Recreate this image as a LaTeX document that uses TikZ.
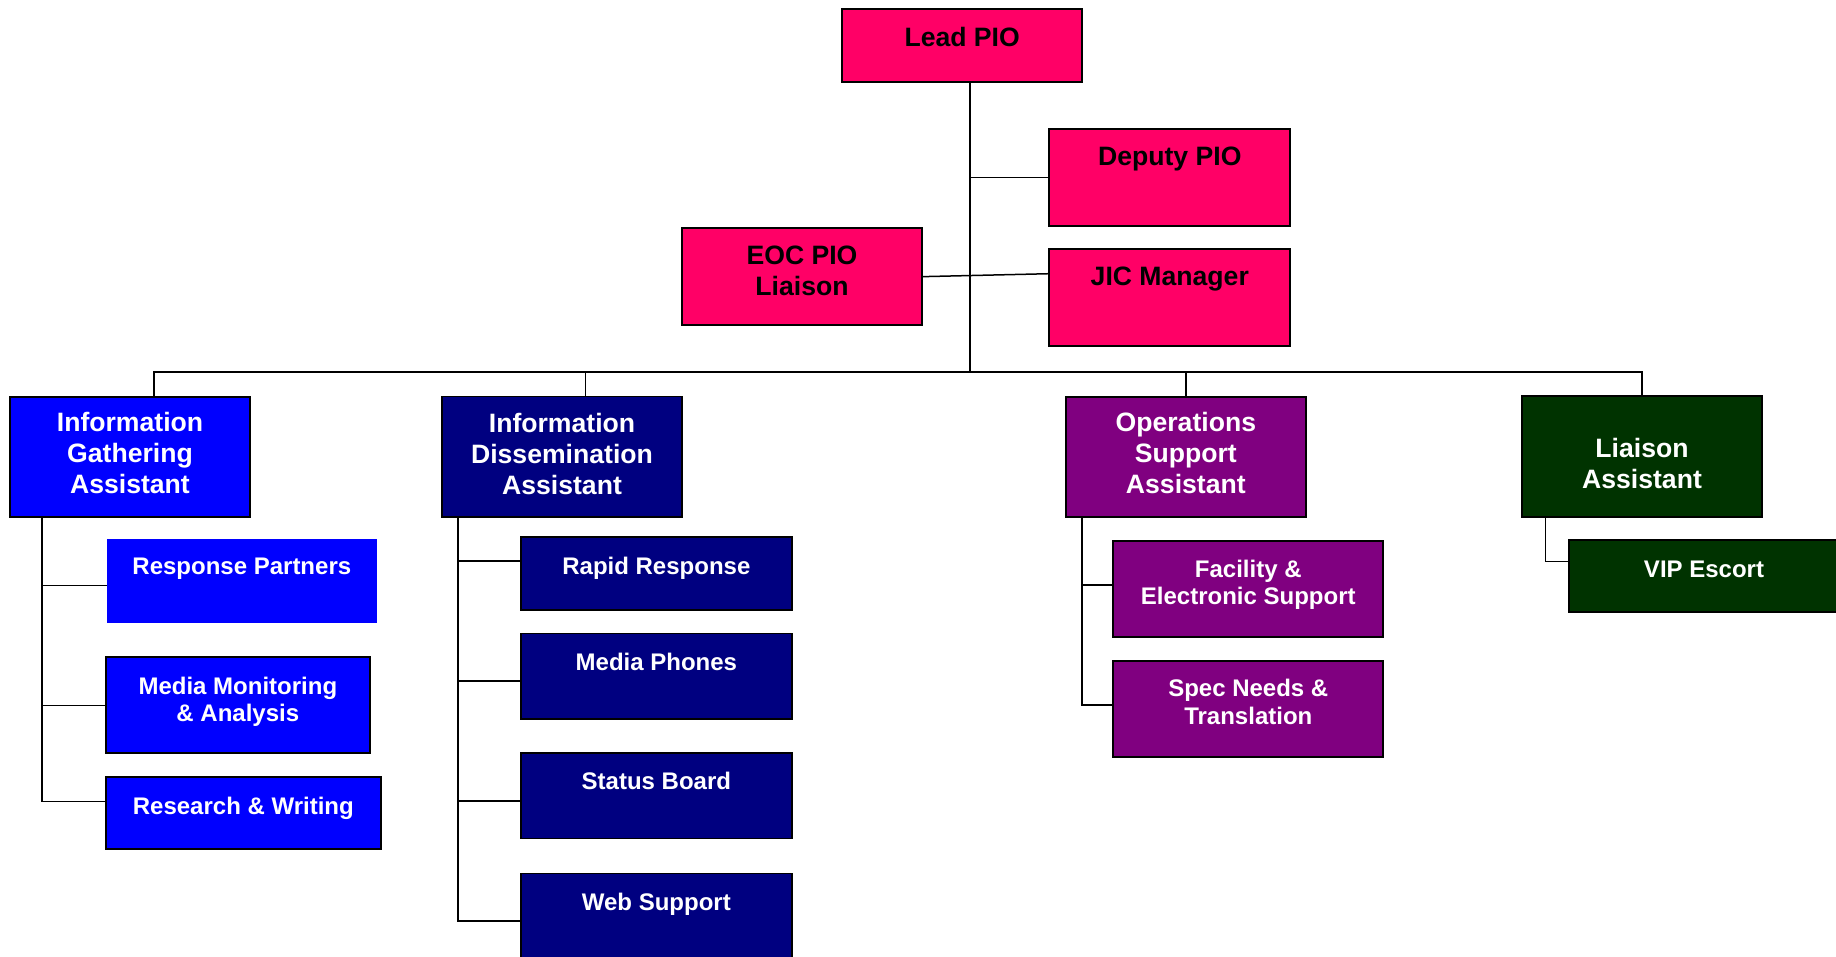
\documentclass[tikz,border=0pt]{standalone}
\usepackage{fontspec}
\setmainfont{Liberation Sans}
\usetikzlibrary{calc}
\definecolor{pio}{HTML}{FF0066}
\definecolor{igblue}{HTML}{0000FF}
\definecolor{idnavy}{HTML}{000080}
\definecolor{ospurple}{HTML}{800080}
\definecolor{lagreen}{HTML}{003300}
\begin{document}
\begin{tikzpicture}[x=1pt,y=-1pt,
  box/.style={draw=black, line width=1.8pt, inner xsep=0pt, inner ysep=0pt,
    outer sep=0pt, align=center, anchor=north west},
  geom/.style n args={3}{minimum width=#1pt, text height=#2pt, text depth=#3pt},
  hdr/.style={box, font=\fontsize{26.6}{31}\selectfont\bfseries},
  sub/.style={box, font=\fontsize{24}{27.6}\selectfont\bfseries},
  pinkbox/.style={hdr, fill=pio, text=black},
  conn/.style={draw=black, line width=1.5pt},
]
\useasboundingbox[fill=white] (0,0) rectangle (1836,956);

% top level
\node[pinkbox, geom={240.3}{36.7}{35.7}] (lead) at (842,9.3) {Lead PIO};
\node[pinkbox, geom={241}{36.4}{60.3}] (deputy) at (1049.3,129.3) {Deputy PIO};
\node[pinkbox, geom={241}{36.4}{60}] (jic) at (1049.3,249.3) {JIC Manager};
\node[pinkbox, geom={240.6}{67.2}{29.5}] (eoc) at (681.7,228.3) {EOC PIO\\Liaison};

% assistants
\node[hdr, fill=igblue, text=white, geom={240}{97}{23}] (ig) at (10,396.7) {Information\\Gathering\\Assistant};
\node[hdr, fill=idnavy, text=white, geom={240.6}{97.5}{23}] (id) at (441.7,396.5) {Information\\Dissemination\\Assistant};
\node[hdr, fill=ospurple, text=white, geom={240.3}{97}{23}] (os) at (1065.7,396.7) {Operations\\Support\\Assistant};
\node[hdr, fill=lagreen, text=white, geom={240.6}{92.3}{28.4}] (la) at (1521.7,396) {Liaison\\Assistant};

% information gathering
\node[sub, draw=none, fill=igblue, text=white, geom={269.7}{35}{49.3}] (rp) at (107,539) {Response Partners};
\node[sub, fill=igblue, text=white, geom={264.3}{64.3}{31.7}] (mm) at (105.7,657.3) {Media Monitoring\\\& Analysis};
\node[sub, fill=igblue, text=white, geom={275.3}{36.7}{35.3}] (rw) at (105.7,777.3) {Research \& Writing};

% information dissemination
\node[sub, fill=idnavy, text=white, geom={270.7}{37}{35.6}] (rr) at (521,537) {Rapid Response};
\node[sub, fill=idnavy, text=white, geom={270.7}{36.7}{48.5}] (mp) at (521,633.5) {Media Phones};
\node[sub, fill=idnavy, text=white, geom={270.7}{36.7}{48.9}] (sb) at (521,752.9) {Status Board};
\node[sub, fill=idnavy, text=white, geom={270.7}{36.6}{50}] (ws) at (521,873.4) {Web Support};

% operations support
\node[sub, fill=ospurple, text=white, geom={270}{64.2}{32.1}] (fac) at (1113.3,540.7) {Facility \&\\Electronic Support};
\node[sub, fill=ospurple, text=white, geom={270}{63.6}{32.4}] (sn) at (1113.3,660.7) {Spec Needs \&\\Translation};

% liaison
\node[sub, fill=lagreen, text=white, geom={269.4}{37.3}{35}] (vip) at (1569.3,540) {VIP Escort};

% connectors
\coordinate (bus) at (970,372);
\draw[conn] ([xshift=7.85pt]lead.south) -- (bus);
\draw[conn] (bus) |- (deputy.west);
\draw[conn] (eoc.east) -- ([yshift=23.8pt]jic.west);
\draw[conn] ([xshift=24pt]ig.north) |- (bus) -| (la.north);
\draw[conn] ([xshift=23.7pt]id.north) |- (bus);
\draw[conn] (os.north) |- (bus);

\coordinate (igv) at ([xshift=32pt]ig.south west);
\draw[conn] (igv) |- ([yshift=-4.55pt]rp.west);
\draw[conn] (igv) |- (mm.west);
\draw[conn] (igv) |- ([yshift=11.6pt]rw.west);

\coordinate (idv) at ([xshift=16.3pt]id.south west);
\draw[conn] (idv) |- ([yshift=12.3pt]rr.west);
\draw[conn] (idv) |- ([yshift=-4.9pt]mp.west);
\draw[conn] (idv) |- ([yshift=-5.3pt]sb.west);
\draw[conn] (idv) |- ([yshift=-4.3pt]ws.west);

\coordinate (osv) at ([xshift=16.3pt]os.south west);
\draw[conn] (osv) |- ([yshift=3.85pt]fac.west);
\draw[conn] (osv) |- ([yshift=3.7pt]sn.west);

\coordinate (lav) at ([xshift=24pt]la.south west);
\draw[conn] (lav) |- ([yshift=14.45pt]vip.west);
\end{tikzpicture}
\end{document}
